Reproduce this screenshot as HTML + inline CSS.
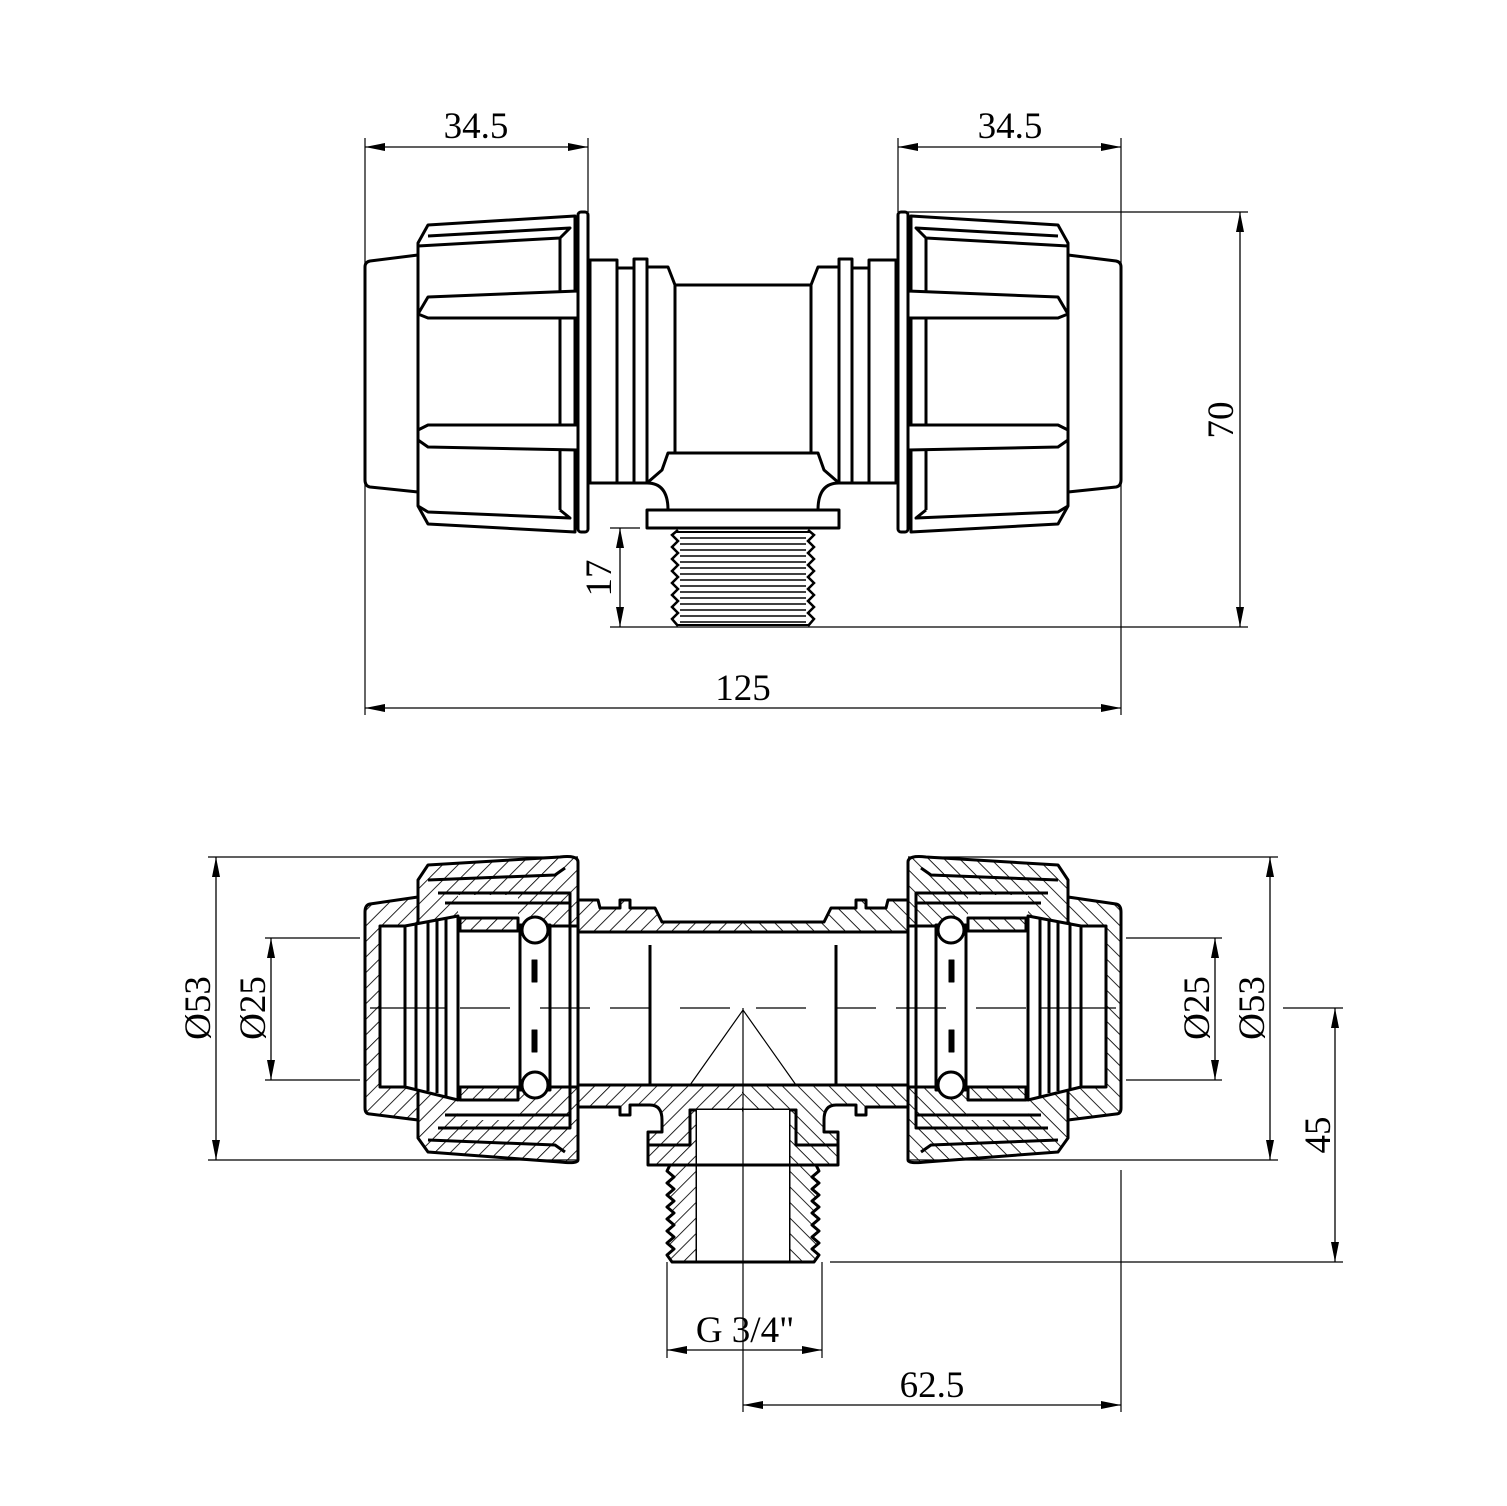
<!DOCTYPE html>
<html><head><meta charset="utf-8"><style>
html,body{margin:0;padding:0;background:#fff}
svg{display:block}
text{font-family:"Liberation Serif",serif;font-size:37px;fill:#000}
</style></head><body>
<svg width="1507" height="1506" viewBox="0 0 1507 1506" xmlns="http://www.w3.org/2000/svg">
<defs>
<pattern id="h" patternUnits="userSpaceOnUse" width="11" height="11" patternTransform="rotate(45)">
<rect width="11" height="11" fill="#fff"/><line x1="0" y1="0" x2="0" y2="11" stroke="#000" stroke-width="1.7"/>
</pattern>
<marker id="a" viewBox="0 0 20 8" refX="20" refY="4" markerWidth="20" markerHeight="8" orient="auto-start-reverse" markerUnits="userSpaceOnUse">
<path d="M0,0 L20,4 L0,8 Z" fill="#000"/></marker>

<g id="topL" fill="#fff" stroke="#000" stroke-width="3" stroke-linejoin="round">
<path d="M418,255 L370,261 Q365,262 365,267 L365,480 Q365,486 370,487 L418,492 Z"/>
<path d="M418,243 L428,225 L575,216 L575,532 L428,524 L418,506 Z"/>
<path d="M428,236 L570,228 L560,238 L418,246"/>
<line x1="560" y1="238" x2="560" y2="510"/>
<path d="M428,297 L578,291 L578,318 L428,318 L418,314 Z"/>
<path d="M418,430 L428,425 L578,425 L578,450 L428,447 L418,440 Z"/>
<path d="M418,506 L428,512 L570,518 L560,510"/>
<rect x="578" y="212" width="10" height="320" rx="3"/>
<rect x="590" y="260" width="27" height="223"/>
<rect x="617" y="268" width="17" height="215"/>
<rect x="634" y="259" width="13" height="224"/>
<path d="M647,267 L668,267 L675,285 L744,285 L744,453 L668,453 L662,470 L647,483 Z" stroke="none"/>
<path d="M744,285 L675,285 L668,267 L647,267 L647,483 L662,470 L668,453 L744,453" fill="none"/>
<line x1="675" y1="285" x2="675" y2="453"/>
<path d="M647,483 Q668,483 668,510 L743,510" fill="none"/>
<path d="M744,510 L647,510 L647,528 L744,528" />
</g>

<g id="botL" stroke="#000" stroke-width="3" stroke-linejoin="round">
<path d="M418,897 L370,904 Q365,905 365,912 L365,1108 Q365,1114 370,1114 L418,1120 Z" fill="url(#h)"/>
<path d="M418,880 L428,865 L560,857 Q578,855 578,862 L578,1160 Q578,1164 560,1162 L428,1152 L418,1138 Z" fill="url(#h)"/>
<path d="M744,945 L650,945 L650,932 L578,932 L578,900 L598,900 L600,908 L620,908 L620,900 L630,900 L630,908 L655,908 L662,922 L744,922" fill="url(#h)"/>
<path d="M744,1110 L690,1110 L690,1145 L648,1145 L648,1132 L662,1132 L662,1120 Q662,1105 650,1105 L630,1105 L630,1115 L620,1115 L620,1107 L578,1107 L578,1085 L744,1085" fill="url(#h)"/>
<path d="M648,1145 L690,1145 L690,1110 L697,1110 L697,1165 L648,1165 Z" fill="url(#h)"/>
<path d="M670,1165 L697,1165 L697,1262 L672,1262 L667,1255 L674,1249 L667,1243 L674,1237 L667,1231 L674,1225 L667,1219 L674,1213 L667,1207 L674,1201 L667,1195 L674,1189 L667,1183 L674,1177 L667,1171 Z" fill="url(#h)"/>
<rect x="380" y="926" width="198" height="161" fill="#fff"/>
<path d="M744,932 L578,932 L578,1085 L744,1085" fill="#fff"/>
<rect x="697" y="1110" width="46" height="152" fill="#fff" stroke="none"/>
<rect x="458" y="895" width="60" height="135" fill="#fff" stroke="none"/>
<rect x="458" y="985" width="60" height="135" fill="#fff" stroke="none"/>
<path d="M428,880 L555,875 L565,868" fill="none"/>
<path d="M428,1140 L555,1145 L565,1152" fill="none"/>
<path d="M438,893 L570,893 L570,1128 L438,1128" fill="none"/>
<path d="M445,903 L570,903" fill="none"/>
<path d="M445,1115 L570,1115" fill="none"/>
<rect x="460" y="918" width="58" height="13" fill="url(#h)"/>
<rect x="460" y="1087" width="58" height="13" fill="url(#h)"/>
<path d="M405,926 L458,916 L458,1100 L405,1087 Z" fill="#fff"/>
<line x1="416" y1="924" x2="416" y2="1089"/><line x1="428" y1="922" x2="428" y2="1091"/><line x1="437" y1="920" x2="437" y2="1093"/><line x1="446" y1="918" x2="446" y2="1096"/>
<rect x="520" y="925" width="30" height="165" fill="#fff"/>
<circle cx="535" cy="930" r="13" fill="#fff"/>
<circle cx="535" cy="1085" r="13" fill="#fff"/>
<rect x="532" y="960" width="5" height="22" fill="#000" stroke-width="1"/>
<rect x="532" y="1030" width="5" height="22" fill="#000" stroke-width="1"/>
<line x1="650" y1="945" x2="650" y2="1085"/>
<line x1="697" y1="1165" x2="743" y2="1165"/>
<line x1="697" y1="1262" x2="743" y2="1262"/>
</g>
</defs>

<use href="#topL"/>
<use href="#topL" transform="translate(1486,0) scale(-1,1)"/>
<g stroke="#000" stroke-width="2">
<path d="M675,532 L811,532" /><path d="M678,625 L808,625"/>
</g>
<g stroke="#000" stroke-width="1.6">
<path d="M680,538H806M680,544H806M680,550H806M680,556H806M680,562H806M680,568H806M680,574H806M680,580H806M680,586H806M680,592H806M680,598H806M680,604H806M680,610H806M680,616H806M680,622H806"/>
<path d="M678,530 L672,535 L678,541 L672,547 L678,553 L672,559 L678,565 L672,571 L678,577 L672,583 L678,589 L672,595 L678,601 L672,607 L678,613 L672,619 L678,626" fill="none" stroke-width="2.5"/>
<path d="M808,530 L814,535 L808,541 L814,547 L808,553 L814,559 L808,565 L814,571 L808,577 L814,583 L808,589 L814,595 L808,601 L814,607 L808,613 L814,619 L808,626" fill="none" stroke-width="2.5"/>
</g>

<use href="#botL"/>
<use href="#botL" transform="translate(1486,0) scale(-1,1)"/>
<g stroke="#000" stroke-width="1.2" fill="none">
<path d="M370,1008 H445 M460,1008 H510 M540,1008 H590 M610,1008 H650 M680,1008 H730 M756,1008 H806 M836,1008 H876 M896,1008 H946 M976,1008 H1026 M1041,1008 H1116"/>
<path d="M743,1008 V1290"/>
<path d="M690,1085 L743,1010 L796,1085"/>
</g>

<g stroke="#000" stroke-width="1.2" fill="none">
<path d="M365,138 V715 M588,138 V212 M898,138 V212 M1121,138 V715"/>
<path d="M905,212 H1248 M610,627 H1248 M610,528 H640"/>
<path d="M208,857 H578 M208,1160 H578 M265,938 H360 M265,1080 H360"/>
<path d="M908,857 H1278 M908,1160 H1278 M1126,938 H1222 M1126,1080 H1222"/>
<path d="M1283,1008 H1343 M830,1262 H1343 M1121,1170 V1412 M743,1290 V1412 M667,1262 V1358 M822,1262 V1358"/>
</g>
<g stroke="#000" stroke-width="1.3" fill="none" marker-start="url(#a)" marker-end="url(#a)">
<line x1="365" y1="147" x2="588" y2="147"/>
<line x1="898" y1="147" x2="1121" y2="147"/>
<line x1="1240" y1="212" x2="1240" y2="627"/>
<line x1="620" y1="528" x2="620" y2="627"/>
<line x1="365" y1="708" x2="1121" y2="708"/>
<line x1="216" y1="857" x2="216" y2="1160"/>
<line x1="271" y1="938" x2="271" y2="1080"/>
<line x1="1215" y1="938" x2="1215" y2="1080"/>
<line x1="1270" y1="857" x2="1270" y2="1160"/>
<line x1="1335" y1="1008" x2="1335" y2="1262"/>
<line x1="667" y1="1350" x2="822" y2="1350"/>
<line x1="743" y1="1405" x2="1121" y2="1405"/>
</g>
<g text-anchor="middle">
<text x="476" y="138">34.5</text>
<text x="1010" y="138">34.5</text>
<text x="743" y="700">125</text>
<text transform="translate(1233,420) rotate(-90)">70</text>
<text transform="translate(611,578) rotate(-90)">17</text>
<text transform="translate(210,1008) rotate(-90)">Ø53</text>
<text transform="translate(265,1008) rotate(-90)">Ø25</text>
<text transform="translate(1209,1008) rotate(-90)">Ø25</text>
<text transform="translate(1264,1008) rotate(-90)">Ø53</text>
<text transform="translate(1330,1135) rotate(-90)">45</text>
<text x="745" y="1342">G 3/4"</text>
<text x="932" y="1397">62.5</text>
</g>
</svg>
</body></html>
